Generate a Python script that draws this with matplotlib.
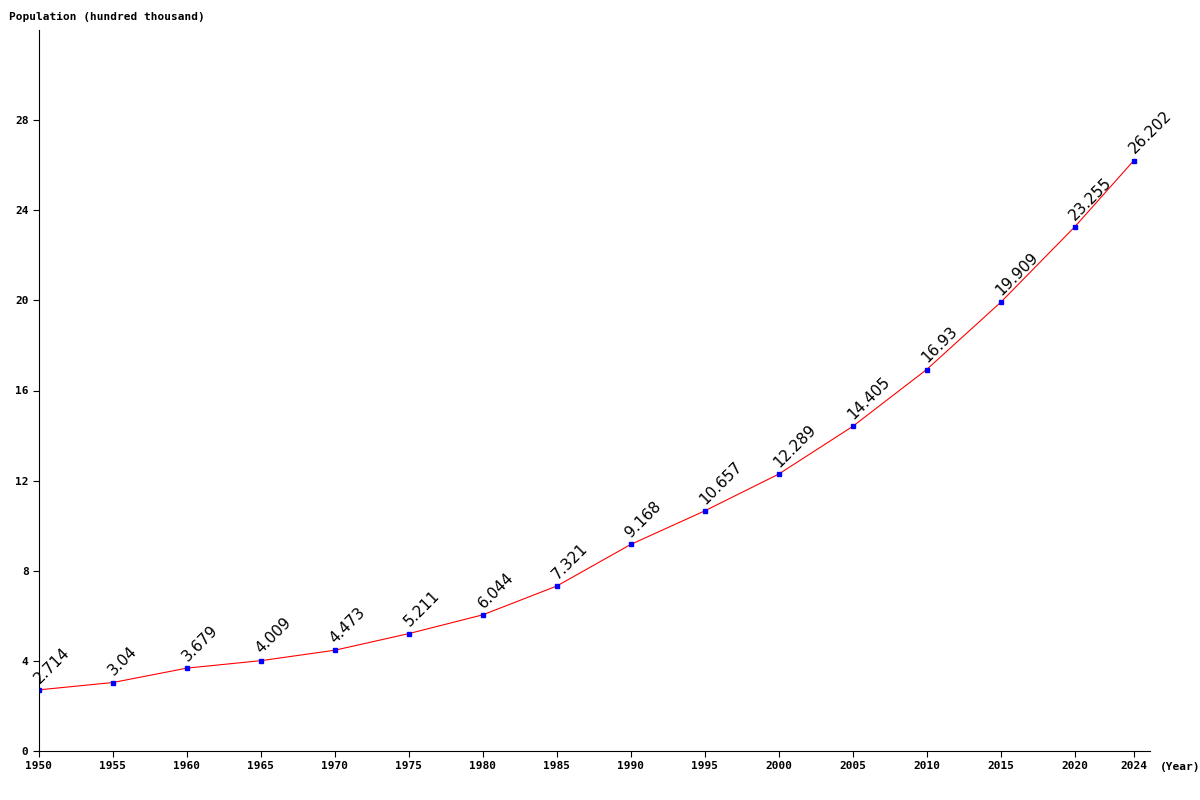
import matplotlib
matplotlib.use("Agg")
import matplotlib.pyplot as plt

years = [1950, 1955, 1960, 1965, 1970, 1975, 1980, 1985, 1990, 1995,
         2000, 2005, 2010, 2015, 2020, 2024]
population = [2.714, 3.04, 3.679, 4.009, 4.473, 5.211, 6.044, 7.321, 9.168,
              10.657, 12.289, 14.405, 16.93, 19.909, 23.255, 26.202]
labels = ["2.714", "3.04", "3.679", "4.009", "4.473", "5.211", "6.044", "7.321",
          "9.168", "10.657", "12.289", "14.405", "16.93", "19.909", "23.255", "26.202"]
yticks = [0, 4, 8, 12, 16, 20, 24, 28]

fig = plt.figure(figsize=(12, 8), dpi=100)
ax = fig.add_axes([39 / 1200, 49 / 800, 1111 / 1200, 721 / 800])

ax.plot(years, population, color="red", linewidth=0.8)
ax.plot(years, population, "s", color="blue", markersize=3)
for x, y, t in zip(years, population, labels):
    ax.annotate(t, (x, y), xytext=(2, 3), textcoords="offset points",
                rotation=45, fontsize=11, ha="left", va="bottom",
                family="DejaVu Sans", rotation_mode="anchor")

ax.set_xlim(1950, 2025.1)
ax.set_ylim(0, 32)
ax.set_xticks(years)
ax.set_yticks(yticks)
for spine in ["top", "right"]:
    ax.spines[spine].set_visible(False)
ax.tick_params(labelsize=8, length=4)
for lbl in ax.get_xticklabels() + ax.get_yticklabels():
    lbl.set_family("DejaVu Sans Mono")
    lbl.set_fontweight("bold")

fig.text(9 / 1200, 1 - 17 / 800, "Population (hundred thousand)", fontsize=8,
         family="DejaVu Sans Mono", fontweight="bold", va="center")
fig.text(1160 / 1200, 1 - 767 / 800, "(Year)", fontsize=8,
         family="DejaVu Sans Mono", fontweight="bold", va="center")

fig.savefig("out.png", dpi=100)
